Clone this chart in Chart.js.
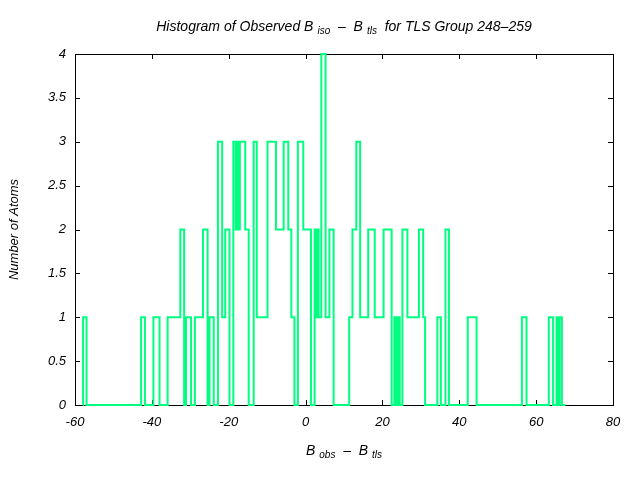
<!DOCTYPE html>
<html lang="en">
<head>
    <meta charset="UTF-8">
    <title>Histogram of Observed B iso - B tls</title>
    <style>
        body {
            margin: 0;
            background-color: #ffffff;
        }
        .chart-container {
            width: 640px;
            height: 480px;
        }
    </style>
</head>
<body>
    <div class="chart-container">
        <canvas id="histChart" width="640" height="480"></canvas>
    </div>

    <script src="https://cdn.jsdelivr.net/npm/chart.js"></script>
    <script>
        // step edges (B_obs - B_tls) and the atom count held from each edge to the next
        var binEdges = [-58.0, -57.9, -57.0, -42.8, -41.8, -39.6, -38.0, -35.9, -32.6, -31.6, -31.1,
            -29.8, -28.8, -26.7, -25.5, -25.0, -23.9, -22.8, -21.7, -20.9, -19.8,
            -18.8, -18.2, -17.9, -17.5, -17.1, -15.7, -14.8, -13.5, -12.7, -9.9,
            -7.7, -5.7, -4.5, -3.7, -2.9, -2.0, -0.6, 1.4, 2.35, 2.7,
            3.0, 3.4, 4.1, 5.2, 6.2, 7.3, 11.35, 12.2, 13.2, 14.2,
            16.3, 18.0, 20.3, 22.4, 23.1, 23.6, 24.0, 24.5, 25.2, 26.5,
            29.5, 30.6, 31.1, 34.3, 35.2, 36.4, 37.3, 42.2, 44.5, 56.3,
            57.5, 63.3, 64.4, 65.3, 65.8, 66.1, 66.7, 67.6];
        var atomCounts = [0, 1, 0, 1, 0, 1, 0, 1, 2, 0, 1,
            0, 1, 2, 0, 1, 0, 3, 1, 2, 0,
            3, 2, 3, 2, 3, 2, 0, 3, 1, 3,
            2, 3, 2, 1, 0, 3, 2, 0, 2, 1,
            2, 1, 4, 1, 2, 0, 1, 2, 3, 1,
            2, 1, 2, 0, 1, 0, 1, 0, 2, 1,
            2, 1, 0, 1, 0, 2, 0, 1, 0, 1,
            0, 1, 0, 1, 0, 1, 0, 0];

        var xTicks = [-60, -40, -20, 0, 20, 40, 60, 80];
        var yTicks = [0, 0.5, 1, 1.5, 2, 2.5, 3, 3.5, 4];

        var chartTitle = [
            { t: 'Histogram of Observed B' }, { t: 'iso', sub: true },
            { t: '  \u2013  B' }, { t: 'tls', sub: true },
            { t: '  for TLS Group 248\u2013259' }
        ];
        var xTitle = [{ t: 'B' }, { t: 'obs', sub: true }, { t: '  \u2013  B' }, { t: 'tls', sub: true }];
        var yTitle = 'Number of Atoms';

        var points = binEdges.map(function (x, i) { return { x: x, y: atomCounts[i] }; });

        var fam = '"Liberation Sans", Arial, sans-serif';

        function richText(ctx, parts, cx, cy) {
            var w = 0;
            parts.forEach(function (p) {
                ctx.font = 'italic ' + (p.sub ? 10 : 14) + 'px ' + fam;
                w += ctx.measureText(p.t).width + (p.sub ? 4 : 0);
            });
            var x = cx - w / 2;
            ctx.textAlign = 'left';
            ctx.textBaseline = 'middle';
            parts.forEach(function (p) {
                ctx.font = 'italic ' + (p.sub ? 10 : 14) + 'px ' + fam;
                if (p.sub) x += 4;
                ctx.fillText(p.t, x, p.sub ? cy + 4 : cy);
                x += ctx.measureText(p.t).width;
            });
        }

        // gnuplot look: frame box, inward ticks, titles with subscripts
        var framePlugin = {
            id: 'frame',
            beforeDatasetsDraw: function (chart) {
                var ctx = chart.ctx, a = chart.chartArea;
                var xs = chart.scales.x, ys = chart.scales.y;
                ctx.save();
                ctx.strokeStyle = '#000';
                ctx.lineWidth = 1;
                ctx.strokeRect(Math.round(a.left) + 0.5, Math.round(a.top) + 0.5,
                    Math.round(a.right - a.left), Math.round(a.bottom - a.top));
                ctx.beginPath();
                xTicks.forEach(function (v) {
                    var px = Math.round(xs.getPixelForValue(v)) + 0.5;
                    ctx.moveTo(px, a.bottom); ctx.lineTo(px, a.bottom - 5);
                    ctx.moveTo(px, a.top); ctx.lineTo(px, a.top + 5);
                });
                yTicks.forEach(function (v) {
                    var py = Math.round(ys.getPixelForValue(v)) + 0.5;
                    ctx.moveTo(a.left, py); ctx.lineTo(a.left + 5, py);
                    ctx.moveTo(a.right, py); ctx.lineTo(a.right - 5, py);
                });
                ctx.stroke();
                ctx.restore();
            },
            afterDraw: function (chart) {
                var ctx = chart.ctx, a = chart.chartArea;
                ctx.save();
                ctx.fillStyle = '#000';
                richText(ctx, chartTitle, (a.left + a.right) / 2, 27);
                richText(ctx, xTitle, (a.left + a.right) / 2, 451);
                ctx.translate(14, (a.top + a.bottom) / 2);
                ctx.rotate(-Math.PI / 2);
                ctx.font = 'italic 13px ' + fam;
                ctx.textAlign = 'center';
                ctx.textBaseline = 'middle';
                ctx.fillText(yTitle, 0, 0);
                ctx.restore();
            }
        };

        var ctx = document.getElementById('histChart').getContext('2d');
        var histChart = new Chart(ctx, {
            type: 'line',
            data: {
                datasets: [{
                    label: 'Atoms',
                    data: points,
                    stepped: true,
                    borderColor: 'rgb(0, 255, 128)',
                    borderWidth: 2,
                    pointRadius: 0,
                    fill: false,
                    clip: false
                }]
            },
            options: {
                responsive: false,
                animation: false,
                layout: { padding: { top: 54, right: 27, left: 0, bottom: 0 } },
                plugins: {
                    legend: { display: false },
                    tooltip: { enabled: false }
                },
                scales: {
                    x: {
                        type: 'linear',
                        min: -60,
                        max: 80,
                        afterFit: function (s) { s.height = 75; },
                        afterBuildTicks: function (s) { s.ticks = xTicks.map(function (v) { return { value: v }; }); },
                        grid: { display: false, drawTicks: false },
                        border: { display: false },
                        ticks: {
                            padding: 10,
                            color: '#000',
                            maxRotation: 0,
                            callback: function (v) { return String(v); },
                            font: { family: fam, style: 'italic', size: 13 }
                        }
                    },
                    y: {
                        min: 0,
                        max: 4,
                        afterFit: function (s) { s.width = 75; },
                        afterBuildTicks: function (s) { s.ticks = yTicks.map(function (v) { return { value: v }; }); },
                        grid: { display: false, drawTicks: false },
                        border: { display: false },
                        ticks: {
                            padding: 9,
                            color: '#000',
                            callback: function (v) { return String(v); },
                            font: { family: fam, style: 'italic', size: 13 }
                        }
                    }
                }
            },
            plugins: [framePlugin]
        });
    </script>
</body>
</html>
